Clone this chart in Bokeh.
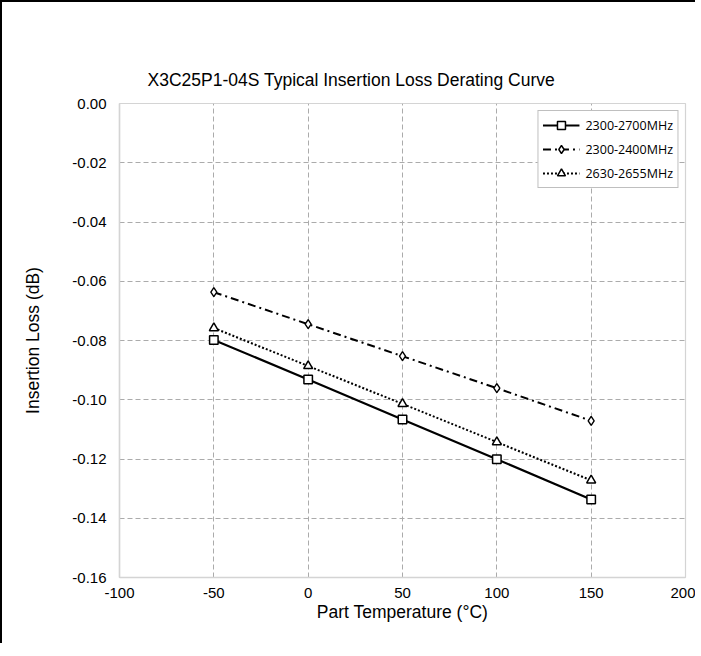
from bokeh.plotting import figure
from bokeh.models import FixedTicker, NumeralTickFormatter, Range1d, Legend, LegendItem, Title
from bokeh.embed import file_html
from bokeh.resources import INLINE

# Data
temps = [-50, 0, 50, 100, 150]
s1_name = "2300-2700MHz"
s1 = [-0.0798, -0.0932, -0.1067, -0.1201, -0.1337]
s2_name = "2300-2400MHz"
s2 = [-0.0637, -0.0745, -0.0853, -0.0961, -0.1071]
s3_name = "2630-2655MHz"
s3 = [-0.0758, -0.0886, -0.1014, -0.1143, -0.1272]
x_ticks = [-100, -50, 0, 50, 100, 150, 200]
y_ticks = [-0.16, -0.14, -0.12, -0.10, -0.08, -0.06, -0.04, -0.02, 0.0]
title_text = "X3C25P1-04S Typical Insertion Loss Derating Curve"

p = figure(
    frame_width=566, frame_height=474,
    min_border_left=117, min_border_right=10,
    min_border_top=101, min_border_bottom=66,
    x_range=Range1d(-100, 200), y_range=Range1d(-0.16, 0.0),
    output_backend="svg", toolbar_location=None,
    background_fill_color="white", border_fill_color="white",
    outline_line_color="#d4d4d4", outline_line_width=1.2,
    styles={"border-top": "2px solid black", "border-left": "2px solid black"},
)
p.title = Title(text=title_text, align="left", offset=28, text_font="Liberation Sans",
                text_font_size="17.5px", text_font_style="normal", text_color="#000000", standoff=27)

for ax in (p.xaxis[0], p.yaxis[0]):
    ax.axis_line_color = "#d4d4d4"
    ax.axis_line_width = 1.5
    ax.major_tick_line_color = None
    ax.minor_tick_line_color = None
    ax.major_label_text_font = "Liberation Sans"
    ax.major_label_text_font_size = "15px"
    ax.major_label_text_color = "#000000"
    ax.axis_label_text_font = "Liberation Sans"
    ax.axis_label_text_font_size = "17.5px"
    ax.axis_label_text_font_style = "normal"
    ax.axis_label_text_color = "#000000"

p.xaxis.ticker = FixedTicker(ticks=x_ticks)
p.yaxis.ticker = FixedTicker(ticks=y_ticks)
p.xaxis.formatter = NumeralTickFormatter(format="0")
p.yaxis.formatter = NumeralTickFormatter(format="0.00")
p.xaxis.axis_label = "Part Temperature (°C)"
p.yaxis.axis_label = "Insertion Loss (dB)"
p.xaxis.major_label_standoff = 4
p.yaxis.major_label_standoff = 7
p.xaxis.axis_label_standoff = 1
p.yaxis.axis_label_standoff = 26

p.xgrid.ticker = FixedTicker(ticks=x_ticks[1:-1])
p.ygrid.ticker = FixedTicker(ticks=y_ticks[1:-1])
for g in (p.xgrid[0], p.ygrid[0]):
    g.grid_line_color = "#ababab"
    g.grid_line_dash = "5 3"
    g.grid_line_width = 1

l1 = p.line(temps, s1, line_color="black", line_width=2.2)
m1 = p.scatter(temps, s1, marker="square", size=8.5, fill_color="white", line_color="black", line_width=1.5)
l2 = p.line(temps, s2, line_color="black", line_width=2, line_dash="8 4 2 4")
m2 = p.scatter(temps, s2, marker="diamond", size=9, fill_color="white", line_color="black", line_width=1.4)
l3 = p.line(temps, s3, line_color="black", line_width=2, line_dash="2 2")
m3 = p.scatter(temps, s3, marker="triangle", size=9, fill_color="white", line_color="black", line_width=1.5)

legend = Legend(items=[
    LegendItem(label=s1_name, renderers=[l1, m1]),
    LegendItem(label=s2_name, renderers=[l2, m2]),
    LegendItem(label=s3_name, renderers=[l3, m3]),
], location="top_right")
legend.label_text_font = "Open Sans"
legend.label_text_font_size = "12.5px"
legend.label_text_color = "#000000"
legend.border_line_color = "#7f7f7f"
legend.border_line_width = 1
legend.background_fill_alpha = 1
legend.glyph_width = 37
legend.glyph_height = 20
legend.spacing = 4
legend.padding = 4
legend.margin = 7
legend.label_standoff = 6
legend.label_height = 20
p.add_layout(legend)

open("out.html", "w").write(file_html(p, INLINE))
